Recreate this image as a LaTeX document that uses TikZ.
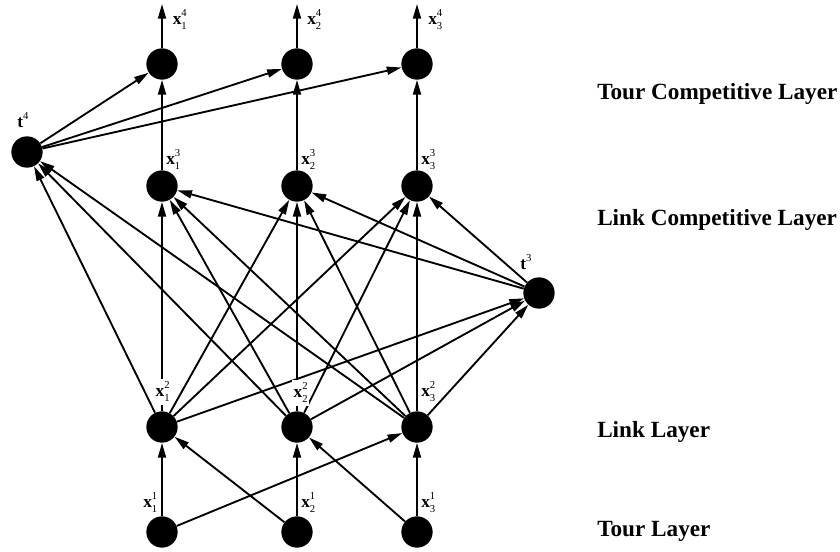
\documentclass[tikz,border=0pt]{standalone}
\usepackage{fontspec}
\setmainfont{Liberation Serif}
\usetikzlibrary{arrows.meta}

% small upright figures for indices
\newcommand\smallfig{\fontsize{8}{8}\selectfont\mdseries}
% bold symbol with a subscript (#2) and a superscript (#3)
\newcommand\vlab[3]{{\bfseries #1}\rlap{\raisebox{6pt}{\smallfig #3}}\raisebox{-3.7pt}{\smallfig #2}}

\begin{document}
\begin{tikzpicture}[x=0.75pt,y=-0.75pt,
  neuron/.style={circle,fill=black,draw=none,minimum size=23.5pt,inner sep=0pt},
  link/.style={line width=1.4pt,-{Triangle[length=11pt,width=6pt]}},
  vlabel/.style={font=\fontsize{13pt}{15pt}\selectfont,inner sep=0pt,anchor=base west},
  masked/.style={vlabel,fill=white,inner xsep=1pt,inner ysep=2pt},
  layername/.style={font=\fontsize{17.4pt}{20pt}\selectfont\bfseries,inner sep=0pt,anchor=base west}]

\useasboundingbox (0,0) rectangle (840,552);

% neurons
\node[neuron] (tc1) at (162,64) {};
\node[neuron] (tc2) at (297,64) {};
\node[neuron] (tc3) at (417,64) {};
\node[neuron] (c1) at (162,186) {};
\node[neuron] (c2) at (297,186) {};
\node[neuron] (c3) at (417,186) {};
\node[neuron] (l1) at (162,427) {};
\node[neuron] (l2) at (297,427) {};
\node[neuron] (l3) at (417,427) {};
\node[neuron] (s1) at (162,532) {};
\node[neuron] (s2) at (297,532) {};
\node[neuron] (s3) at (417,532) {};
\node[neuron] (t4) at (27,152) {};
\node[neuron] (t3) at (539,293) {};

\coordinate (o1) at (162,4);
\coordinate (o2) at (297,4);
\coordinate (o3) at (417,4);

% tour layer -> link layer
\draw[link] (s1) -- (l1);
\draw[link] (s2) -- (l2);
\draw[link] (s3) -- (l3);
\draw[link] (s2) -- (l1);
\draw[link] (s3) -- (l2);
\draw[link] (s1) -- (l3);

% link layer -> link competitive layer
\foreach \a in {1,2,3}{
  \foreach \b in {1,2,3}{
    \draw[link] (l\a) -- (c\b);
  }
  \draw[link] (l\a) -- (t4);
  \draw[link] (l\a) -- (t3);
  \draw[link] (t3) -- (c\a);
  \draw[link] (c\a) -- (tc\a);
  \draw[link] (t4) -- (tc\a);
  \draw[link] (tc\a) -- (o\a);
}

% state labels
\node[vlabel] (lx14) at (172.5,25) {\vlab{x}{1}{4}};
\node[vlabel] (lx24) at (307,25) {\vlab{x}{2}{4}};
\node[vlabel] (lx34) at (428,25) {\vlab{x}{3}{4}};
\node[vlabel] (lx13) at (166,165) {\vlab{x}{1}{3}};
\node[vlabel] (lx23) at (301,165) {\vlab{x}{2}{3}};
\node[vlabel] (lx33) at (421,165) {\vlab{x}{3}{3}};
\node[masked] (lx12) at (154,397) {\vlab{x}{1}{2}};
\node[masked] (lx22) at (292,398) {\vlab{x}{2}{2}};
\node[vlabel] (lx32) at (421,397) {\vlab{x}{3}{2}};
\node[vlabel] (lx11) at (143,508) {\vlab{x}{1}{1}};
\node[vlabel] (lx21) at (301,508) {\vlab{x}{2}{1}};
\node[vlabel] (lx31) at (421,508) {\vlab{x}{3}{1}};
\node[vlabel] (lt4) at (17,128) {\vlab{t}{}{4}};
\node[vlabel] (lt3) at (520,270) {\vlab{t}{}{3}};

% layer names
\node[layername] (n1) at (597,100) {Tour Competitive Layer};
\node[layername] (n2) at (597,226) {Link Competitive Layer};
\node[layername] (n3) at (597,438) {Link Layer};
\node[layername] (n4) at (597,537) {Tour Layer};
\end{tikzpicture}
\end{document}
